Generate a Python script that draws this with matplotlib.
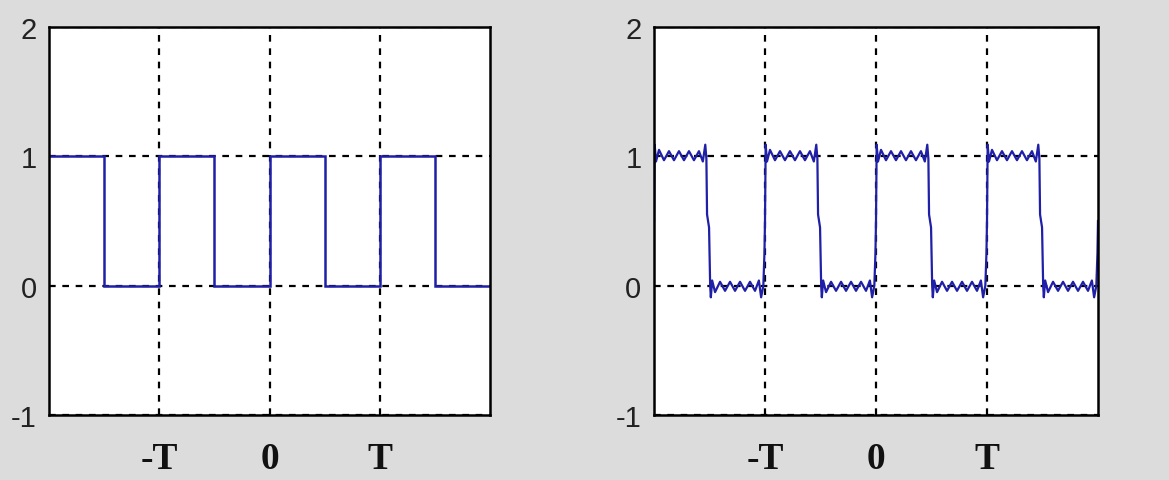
import matplotlib.pyplot as plt
import numpy as np

# left panel: ideal square wave, one level per half period (x in units of T)
step_edges = [-2.0, -1.5, -1.0, -0.5, 0.0, 0.5, 1.0, 1.5, 2.0]
step_levels = [1, 0, 1, 0, 1, 0, 1, 0]

# right panel: one period of the ripple profile
period_phase = [0.000, 0.006, 0.018, 0.045, 0.090, 0.135, 0.180, 0.225, 0.270,
                0.315, 0.360, 0.405, 0.440, 0.462, 0.472, 0.478, 0.496, 0.506,
                0.512, 0.524, 0.550, 0.595, 0.640, 0.685, 0.730, 0.775, 0.820,
                0.865, 0.910, 0.945, 0.965, 0.985, 0.995]
period_level = [0.50, 1.09, 0.96, 1.05, 0.97, 1.04, 0.97, 1.04, 0.97,
                1.04, 0.97, 1.04, 0.96, 1.09, 0.98, 0.55, 0.45, 0.00,
                -0.09, 0.04, -0.05, 0.03, -0.04, 0.03, -0.04, 0.03, -0.04,
                0.03, -0.04, 0.04, -0.09, 0.00, 0.25]
period_starts = [-2, -1, 0, 1]
end_point = (2.0, 0.50)

x_ticks = [-1, 0, 1]
x_tick_labels = ["-T", "0", "T"]
y_ticks = [-1, 0, 1, 2]

BG = "#dcdcdc"
LINE = "#1f1fa8"

fig = plt.figure(figsize=(11.69, 4.81), dpi=100, facecolor=BG)
ax_left = fig.add_axes([49 / 1169, 65 / 481, 441 / 1169, 388 / 481])
ax_right = fig.add_axes([654 / 1169, 65 / 481, 444 / 1169, 388 / 481])

ax_left.stairs(step_levels, step_edges, baseline=None, color=LINE, linewidth=1.8)

fx = []
fy = []
for start in period_starts:
    fx.extend(start + p for p in period_phase)
    fy.extend(period_level)
fx.append(end_point[0])
fy.append(end_point[1])
ax_right.plot(fx, fy, color=LINE, linewidth=1.6)

for ax in (ax_left, ax_right):
    ax.set_xlim(-2, 2)
    ax.set_ylim(-1, 2)
    ax.set_facecolor("white")
    ax.set_xticks(x_ticks)
    ax.set_xticklabels(x_tick_labels, family="Liberation Serif",
                       fontweight="bold", fontsize=27, color="#111111")
    ax.set_yticks(y_ticks)
    ax.set_yticklabels([str(v) for v in y_ticks], family="Liberation Sans",
                       fontsize=21, color="#222222")
    ax.tick_params(axis="x", length=0, pad=19)
    ax.tick_params(axis="y", length=0, pad=9)
    ax.grid(True, color="black", linestyle=(0, (3, 3)), linewidth=1.6)
    ax.set_axisbelow(True)
    for spine in ax.spines.values():
        spine.set_color("black")
        spine.set_linewidth(1.8)
        spine.set_zorder(3)

plt.savefig("out.png", facecolor=BG)
